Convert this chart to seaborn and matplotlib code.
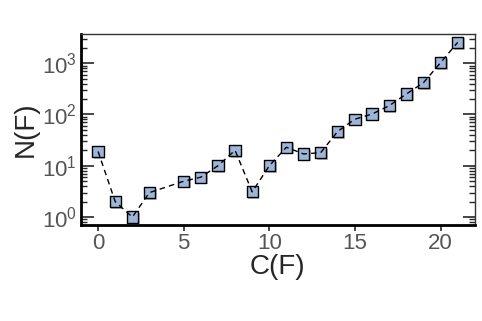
import numpy as np
import pandas as pd
import matplotlib
matplotlib.use("Agg")
import matplotlib.pyplot as plt
import matplotlib.patheffects as pe
from matplotlib.ticker import LogLocator, NullFormatter
import seaborn as sns


# podatki odčitani s slike
c_vrednosti = [0, 1, 2, 3, 5, 6, 7, 8, 9, 10, 11, 12, 13, 14, 15, 16, 17, 18, 19, 20, 21]
n_vrednosti = [19, 2, 1, 3, 5, 6, 10, 20, 3.1, 10, 23, 17, 18, 47, 81, 102, 148, 250, 415, 1020, 2540]

x_oznaka = 'C(F)'
y_oznaka = 'N(F)'


sns.set_style('ticks')
plt.rcParams['font.family'] = ['Liberation Sans', 'DejaVu Sans']
plt.rcParams['mathtext.fontset'] = 'custom'
plt.rcParams['mathtext.rm'] = 'Liberation Sans'
plt.rcParams['mathtext.it'] = 'Liberation Sans:italic'

df = pd.DataFrame({'C': c_vrednosti, 'N': n_vrednosti})

fig = plt.figure(figsize=(4.82, 3.21), dpi=100)
ax = fig.add_axes([0.168, 0.299, 0.817, 0.595])

sns.scatterplot(x='C', y='N', data=df, ax=ax, marker='s', s=65,
                color='#9db5d8', edgecolor='black', linewidth=1.0, zorder=2,
                path_effects=[pe.SimplePatchShadow(offset=(1.2, -1.2), alpha=0.35), pe.Normal()])
sns.lineplot(x='C', y='N', data=df, ax=ax, color='black', linestyle='--',
             linewidth=1.0, zorder=3, dashes=False)
ax.lines[-1].set_linestyle((0, (4, 3)))

ax.set_yscale('log')
ax.set_xlim(-1, 22)
ax.set_ylim(0.7, 3700)
ax.set_xticks([0, 5, 10, 15, 20])
ax.yaxis.set_major_locator(LogLocator(base=10, numticks=10))
ax.yaxis.set_minor_locator(LogLocator(base=10, subs=np.arange(2, 10), numticks=10))
ax.yaxis.set_minor_formatter(NullFormatter())

ax.set_xlabel(x_oznaka, fontsize=20, labelpad=0)
ax.set_ylabel(y_oznaka, fontsize=20, labelpad=2)

ax.tick_params(axis='x', which='major', direction='out', length=4, width=1.2,
               labelsize=16, labelcolor='#555555', pad=2)
ax.tick_params(axis='y', which='major', direction='in', length=9, width=1.2,
               labelsize=16, labelcolor='#555555', right=True, pad=3)
ax.tick_params(axis='y', which='minor', direction='in', length=4, width=1.0, right=True)

for s in ['left', 'bottom']:
    ax.spines[s].set_linewidth(2.0)
    ax.spines[s].set_color('black')
for s in ['top', 'right']:
    ax.spines[s].set_visible(True)
    ax.spines[s].set_linewidth(1.0)
    ax.spines[s].set_color('#333333')

if ax.get_legend() is not None:
    ax.get_legend().remove()

plt.savefig('out.png', dpi=100)
plt.close()
